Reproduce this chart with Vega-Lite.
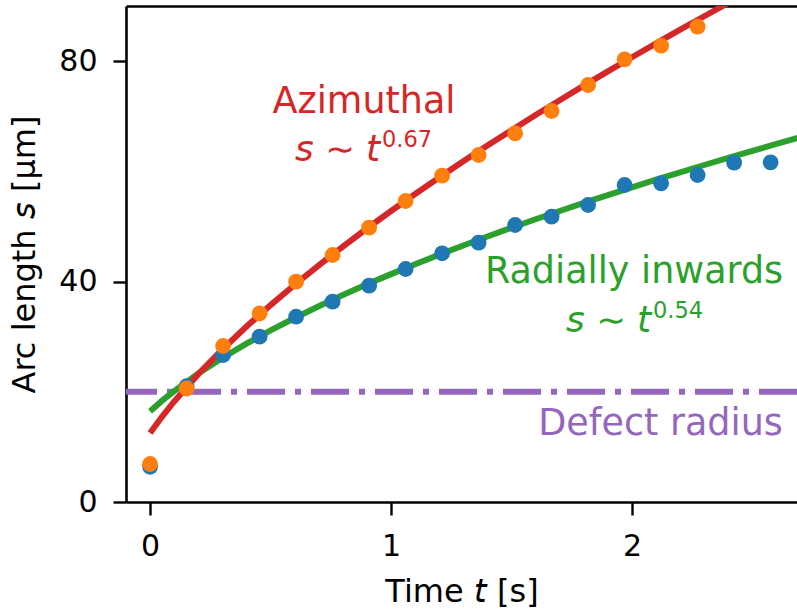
{
  "$schema": "https://vega.github.io/schema/vega-lite/v6.json",
  "width": 671,
  "height": 496,
  "autosize": {"type": "none"},
  "padding": {"left": 126, "top": 6, "right": 0, "bottom": 110},
  "background": "white",
  "config": {
    "view": {"stroke": null},
    "font": "DejaVu Sans",
    "axis": {
      "grid": false,
      "domainColor": "black",
      "domainWidth": 2.6,
      "tickColor": "black",
      "tickWidth": 2.4,
      "tickSize": 13,
      "labelFont": "DejaVu Sans",
      "labelFontSize": 30,
      "labelColor": "black",
      "labelPadding": 16,
      "titleFont": "DejaVu Sans",
      "titleFontSize": 32,
      "titleFontWeight": "normal",
      "titleColor": "black"
    }
  },
  "datasets": {
    "points": [
      {"t": 0.0, "s": 6.4, "series": "Radial data"},
      {"t": 0.1515, "s": 21.0, "series": "Radial data"},
      {"t": 0.303, "s": 26.67, "series": "Radial data"},
      {"t": 0.4545, "s": 30.0, "series": "Radial data"},
      {"t": 0.606, "s": 33.62, "series": "Radial data"},
      {"t": 0.7575, "s": 36.35, "series": "Radial data"},
      {"t": 0.909, "s": 39.25, "series": "Radial data"},
      {"t": 1.0605, "s": 42.28, "series": "Radial data"},
      {"t": 1.212, "s": 45.13, "series": "Radial data"},
      {"t": 1.3635, "s": 47.05, "series": "Radial data"},
      {"t": 1.515, "s": 50.26, "series": "Radial data"},
      {"t": 1.6665, "s": 51.77, "series": "Radial data"},
      {"t": 1.818, "s": 53.89, "series": "Radial data"},
      {"t": 1.9695, "s": 57.52, "series": "Radial data"},
      {"t": 2.121, "s": 57.83, "series": "Radial data"},
      {"t": 2.2725, "s": 59.34, "series": "Radial data"},
      {"t": 2.424, "s": 61.57, "series": "Radial data"},
      {"t": 2.5755, "s": 61.64, "series": "Radial data"},
      {"t": 0.0, "s": 6.9, "series": "Azimuthal data"},
      {"t": 0.1515, "s": 20.6, "series": "Azimuthal data"},
      {"t": 0.303, "s": 28.31, "series": "Azimuthal data"},
      {"t": 0.4545, "s": 34.24, "series": "Azimuthal data"},
      {"t": 0.606, "s": 39.98, "series": "Azimuthal data"},
      {"t": 0.7575, "s": 44.82, "series": "Azimuthal data"},
      {"t": 0.909, "s": 49.78, "series": "Azimuthal data"},
      {"t": 1.0605, "s": 54.62, "series": "Azimuthal data"},
      {"t": 1.212, "s": 59.21, "series": "Azimuthal data"},
      {"t": 1.3635, "s": 62.96, "series": "Azimuthal data"},
      {"t": 1.515, "s": 66.9, "series": "Azimuthal data"},
      {"t": 1.6665, "s": 70.95, "series": "Azimuthal data"},
      {"t": 1.818, "s": 75.67, "series": "Azimuthal data"},
      {"t": 1.9695, "s": 80.33, "series": "Azimuthal data"},
      {"t": 2.121, "s": 82.8, "series": "Azimuthal data"},
      {"t": 2.2725, "s": 86.25, "series": "Azimuthal data"}
    ],
    "fits": [
      {"t": 0.0, "s": 16.48, "series": "Radial fit"},
      {"t": 0.05, "s": 18.39, "series": "Radial fit"},
      {"t": 0.1, "s": 20.13, "series": "Radial fit"},
      {"t": 0.2, "s": 23.3, "series": "Radial fit"},
      {"t": 0.3, "s": 26.13, "series": "Radial fit"},
      {"t": 0.4, "s": 28.72, "series": "Radial fit"},
      {"t": 0.5, "s": 31.13, "series": "Radial fit"},
      {"t": 0.6, "s": 33.39, "series": "Radial fit"},
      {"t": 0.7, "s": 35.52, "series": "Radial fit"},
      {"t": 0.8, "s": 37.55, "series": "Radial fit"},
      {"t": 0.9, "s": 39.49, "series": "Radial fit"},
      {"t": 1.0, "s": 41.35, "series": "Radial fit"},
      {"t": 1.1, "s": 43.14, "series": "Radial fit"},
      {"t": 1.2, "s": 44.88, "series": "Radial fit"},
      {"t": 1.3, "s": 46.55, "series": "Radial fit"},
      {"t": 1.4, "s": 48.18, "series": "Radial fit"},
      {"t": 1.5, "s": 49.77, "series": "Radial fit"},
      {"t": 1.6, "s": 51.3, "series": "Radial fit"},
      {"t": 1.7, "s": 52.8, "series": "Radial fit"},
      {"t": 1.8, "s": 54.27, "series": "Radial fit"},
      {"t": 1.9, "s": 55.7, "series": "Radial fit"},
      {"t": 2.0, "s": 57.1, "series": "Radial fit"},
      {"t": 2.1, "s": 58.48, "series": "Radial fit"},
      {"t": 2.2, "s": 59.82, "series": "Radial fit"},
      {"t": 2.3, "s": 61.15, "series": "Radial fit"},
      {"t": 2.4, "s": 62.44, "series": "Radial fit"},
      {"t": 2.5, "s": 63.72, "series": "Radial fit"},
      {"t": 2.6, "s": 64.97, "series": "Radial fit"},
      {"t": 2.7, "s": 66.2, "series": "Radial fit"},
      {"t": 0.0, "s": 12.5, "series": "Azimuthal fit"},
      {"t": 0.05, "s": 15.51, "series": "Azimuthal fit"},
      {"t": 0.1, "s": 18.25, "series": "Azimuthal fit"},
      {"t": 0.2, "s": 23.2, "series": "Azimuthal fit"},
      {"t": 0.3, "s": 27.68, "series": "Azimuthal fit"},
      {"t": 0.4, "s": 31.83, "series": "Azimuthal fit"},
      {"t": 0.5, "s": 35.73, "series": "Azimuthal fit"},
      {"t": 0.6, "s": 39.42, "series": "Azimuthal fit"},
      {"t": 0.7, "s": 42.95, "series": "Azimuthal fit"},
      {"t": 0.8, "s": 46.35, "series": "Azimuthal fit"},
      {"t": 0.9, "s": 49.63, "series": "Azimuthal fit"},
      {"t": 1.0, "s": 52.8, "series": "Azimuthal fit"},
      {"t": 1.1, "s": 55.88, "series": "Azimuthal fit"},
      {"t": 1.2, "s": 58.88, "series": "Azimuthal fit"},
      {"t": 1.3, "s": 61.81, "series": "Azimuthal fit"},
      {"t": 1.4, "s": 64.67, "series": "Azimuthal fit"},
      {"t": 1.5, "s": 67.47, "series": "Azimuthal fit"},
      {"t": 1.6, "s": 70.21, "series": "Azimuthal fit"},
      {"t": 1.7, "s": 72.9, "series": "Azimuthal fit"},
      {"t": 1.8, "s": 75.54, "series": "Azimuthal fit"},
      {"t": 1.9, "s": 78.15, "series": "Azimuthal fit"},
      {"t": 2.0, "s": 80.7, "series": "Azimuthal fit"},
      {"t": 2.1, "s": 83.22, "series": "Azimuthal fit"},
      {"t": 2.2, "s": 85.7, "series": "Azimuthal fit"},
      {"t": 2.3, "s": 88.14, "series": "Azimuthal fit"},
      {"t": 2.4, "s": 90.56, "series": "Azimuthal fit"},
      {"t": 2.5, "s": 92.94, "series": "Azimuthal fit"}
    ],
    "defect": [
      {"s": 20, "series": "Defect"}
    ],
    "labels": [
      {"t": 0.888, "s": 70.58, "text": "Azimuthal", "series": "Azimuthal fit", "part": "name"},
      {"t": 0.601, "s": 61.87, "text": "𝘴 ∼ 𝘵", "series": "Azimuthal fit", "part": "math"},
      {"t": 0.9626, "s": 64.42, "text": "0.67", "series": "Azimuthal fit", "part": "exp"},
      {"t": 2.0085, "s": 39.74, "text": "Radially inwards", "series": "Radial fit", "part": "name"},
      {"t": 1.7263, "s": 30.85, "text": "𝘴 ∼ 𝘵", "series": "Radial fit", "part": "math"},
      {"t": 2.0874, "s": 33.39, "text": "0.54", "series": "Radial fit", "part": "exp"},
      {"t": 2.1184, "s": 12.16, "text": "Defect radius", "series": "Defect", "part": "name"}
    ]
  },
  "resolve": {"axis": {"x": "independent"}},
  "layer": [
    {
      "data": {"name": "defect"},
      "mark": {"type": "rule", "strokeWidth": 6, "strokeDash": [38, 10, 6, 10]},
      "encoding": {
        "y": {"field": "s", "type": "quantitative", "scale": {"domain": [0, 90], "nice": false, "zero": false},
              "axis": {"values": [0, 40, 80], "title": "Arc length 𝘴 [µm]", "titlePadding": 17}},
        "color": {"field": "series", "type": "nominal", "legend": null,
                  "scale": {"domain": ["Radial data", "Azimuthal data", "Azimuthal fit", "Radial fit", "Defect"],
                            "range": ["#1f77b4", "#ff7f0e", "#d62728", "#2ca02c", "#9467bd"]}}
      }
    },
    {
      "data": {"name": "fits"},
      "mark": {"type": "line", "strokeWidth": 6, "clip": true},
      "encoding": {
        "x": {"field": "t", "type": "quantitative", "scale": {"domain": [-0.1, 2.685], "nice": false, "zero": false},
              "axis": {"orient": "top", "labels": false, "ticks": false, "title": null}},
        "y": {"field": "s", "type": "quantitative"},
        "color": {"field": "series", "type": "nominal", "legend": null},
        "order": {"field": "t", "type": "quantitative"}
      }
    },
    {
      "data": {"name": "points"},
      "mark": {"type": "circle", "size": 250, "opacity": 1},
      "encoding": {
        "x": {"field": "t", "type": "quantitative",
              "axis": {"orient": "bottom", "values": [0, 1, 2], "title": "Time 𝘵 [s]", "titlePadding": 15}},
        "y": {"field": "s", "type": "quantitative"},
        "color": {"field": "series", "type": "nominal", "legend": null}
      }
    },
    {
      "data": {"name": "labels"},
      "transform": [{"filter": "datum.part === 'name'"}],
      "mark": {"type": "text", "align": "center", "baseline": "alphabetic", "fontSize": 36.5, "font": "DejaVu Sans"},
      "encoding": {
        "x": {"field": "t", "type": "quantitative", "axis": null},
        "y": {"field": "s", "type": "quantitative"},
        "text": {"field": "text"},
        "color": {"field": "series", "type": "nominal", "legend": null}
      }
    },
    {
      "data": {"name": "labels"},
      "transform": [{"filter": "datum.part === 'math'"}],
      "mark": {"type": "text", "align": "left", "baseline": "alphabetic", "fontSize": 35.5, "font": "DejaVu Sans"},
      "encoding": {
        "x": {"field": "t", "type": "quantitative", "axis": null},
        "y": {"field": "s", "type": "quantitative"},
        "text": {"field": "text"},
        "color": {"field": "series", "type": "nominal", "legend": null}
      }
    },
    {
      "data": {"name": "labels"},
      "transform": [{"filter": "datum.part === 'exp'"}],
      "mark": {"type": "text", "align": "left", "baseline": "alphabetic", "fontSize": 22.5, "font": "DejaVu Sans"},
      "encoding": {
        "x": {"field": "t", "type": "quantitative", "axis": null},
        "y": {"field": "s", "type": "quantitative"},
        "text": {"field": "text"},
        "color": {"field": "series", "type": "nominal", "legend": null}
      }
    }
  ]
}
